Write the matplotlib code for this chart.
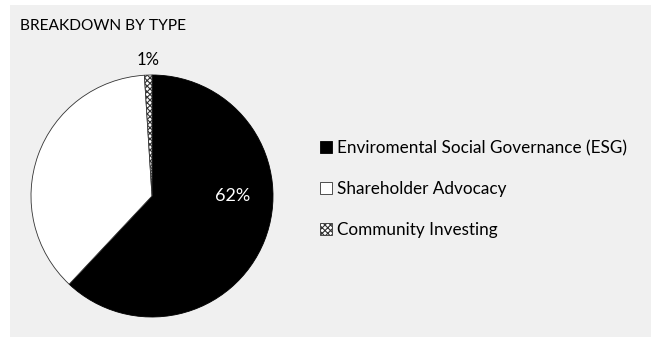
import matplotlib
matplotlib.use("Agg")
import matplotlib.pyplot as plt
from matplotlib.patches import Rectangle

categories = ["Enviromental Social Governance (ESG)", "Shareholder Advocacy", "Community Investing"]
values = [62, 37, 1]
shown_labels = ["62%", None, "1%"]
title = "BREAKDOWN BY TYPE"

plt.rcParams['font.family'] = ['Lato', 'DejaVu Sans']
plt.rcParams['hatch.linewidth'] = 0.8

W, H = 651, 337
fig = plt.figure(figsize=(W / 100, H / 100), dpi=100)
fig.patch.set_facecolor("white")
fig.patches.append(Rectangle((10 / W, -0.05), 1.1 - 10 / W, (H - 5) / H + 0.05, transform=fig.transFigure,
                             facecolor="#f0f0f0", edgecolor="none", zorder=-10))

cx, cy, r = 152, 196, 121
ax = fig.add_axes([(cx - r) / W, (H - cy - r) / H, 2 * r / W, 2 * r / H])
ax.axis("off")

wedges, _ = ax.pie(values, startangle=90, counterclock=False, radius=1,
                   colors=["black", "white", "white"],
                   wedgeprops=dict(edgecolor="#333333", linewidth=0.6))
wedges[0].set_edgecolor("black")
wedges[2].set_hatch("xxxxxx")
ax.set_xlim(-1, 1)
ax.set_ylim(-1, 1)
ax.set_aspect("equal")

# labels
ax.text(0.67, 0.0, shown_labels[0], color="white", fontsize=13, ha="center", va="center")
ax.text(-0.03, 1.12, shown_labels[2], color="black", fontsize=12, ha="center", va="center")

fig.text(20 / W, 1 - 26 / H, title, fontsize=11.2, ha="left", va="center")

leg = fig.legend(wedges, categories, loc="center left",
                 bbox_to_anchor=(313 / W, 1 - 189 / H), frameon=False,
                 fontsize=12.3, handlelength=0.7, handleheight=0.7,
                 handletextpad=0.3, labelspacing=1.45, borderaxespad=0)

fig.savefig("out.png", dpi=100, facecolor=fig.get_facecolor())
